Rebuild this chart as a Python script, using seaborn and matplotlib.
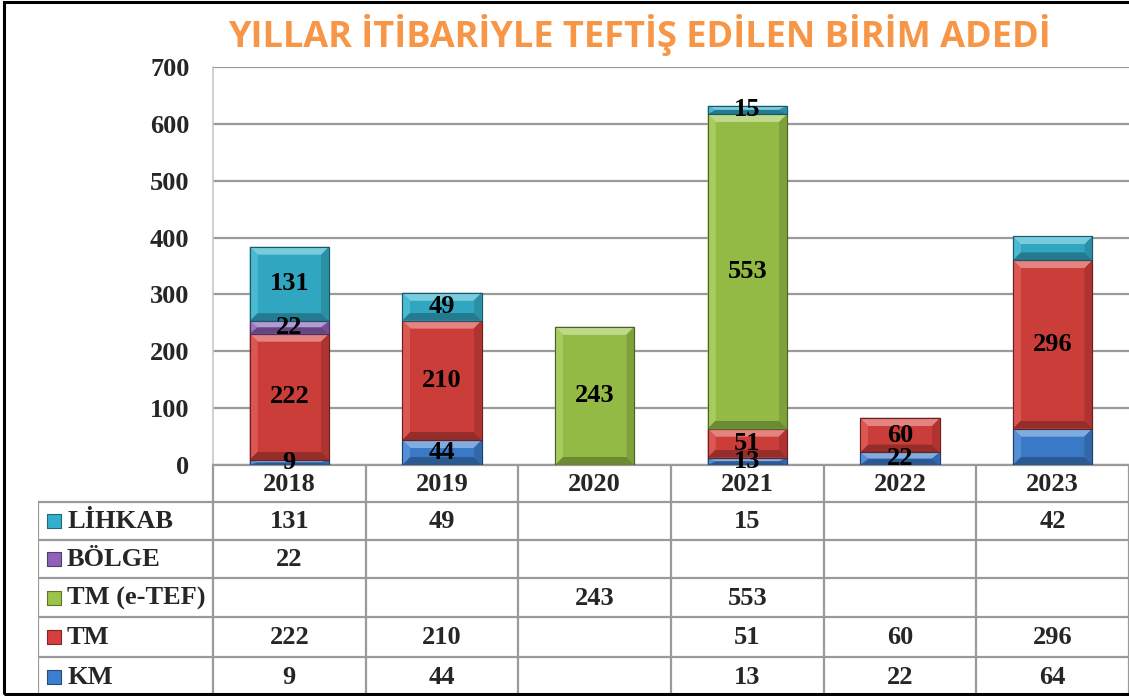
import numpy as np
import pandas as pd
import matplotlib
matplotlib.use("Agg")
import matplotlib.pyplot as plt
import seaborn as sns
from matplotlib.patches import Polygon, Rectangle
from matplotlib import colors as mcolors

# ---------------- data ----------------
years = ["2018", "2019", "2020", "2021", "2022", "2023"]
km = [9, 44, None, 13, 22, 64]
tm = [222, 210, None, 51, 60, 296]
tm_etef = [None, None, 243, 553, None, None]
bolge = [22, None, None, None, None, None]
lihkab = [131, 49, None, 15, None, 42]
series_names = ["KM", "TM", "TM (e-TEF)", "BÖLGE", "LİHKAB"]
title = "YILLAR İTİBARİYLE TEFTİŞ EDİLEN BİRİM ADEDİ"
yticks = [0, 100, 200, 300, 400, 500, 600, 700]
# labels not printed inside the bars (year, series)
hidden_labels = [("2023", "KM"), ("2023", "LİHKAB")]

series_values = [km, tm, tm_etef, bolge, lihkab]
series_colors = ["#3D7FCF", "#D5403C", "#9BC449", "#8D62B8", "#33AFCB"]

sns.set_theme(style="white")
plt.rcParams["font.family"] = ["Liberation Serif", "DejaVu Serif"]

W, H = 1129, 696
fig = plt.figure(figsize=(W / 100, H / 100), dpi=100)

ax_left, ax_right, ax_top, ax_bot = 213, 1129, 67, 465
ax = fig.add_axes([ax_left / W, 1 - ax_bot / H, (ax_right - ax_left) / W, (ax_bot - ax_top) / H])

def mix(c, other, t):
    c = np.array(mcolors.to_rgb(c)); o = np.array(mcolors.to_rgb(other))
    return tuple(c * (1 - t) + o * t)

bottoms = np.zeros(len(years))
for name, vals, col in zip(series_names, series_values, series_colors):
    v = np.array([0 if x is None else x for x in vals], dtype=float)
    df = pd.DataFrame({"year": years, "value": v})
    sns.barplot(data=df, x="year", y="value", bottom=bottoms, color=col,
                saturation=1, width=0.52, errorbar=None, ax=ax,
                edgecolor=mix(col, "black", 0.45), linewidth=0.8, zorder=3)
    cont = ax.containers[-1]
    labels = []
    for yr, x in zip(years, vals):
        if x is None or (yr, name) in hidden_labels:
            labels.append("")
        else:
            labels.append(str(x))
    ax.bar_label(cont, labels=labels, label_type="center", fontsize=19,
                 fontweight="bold", color="black", zorder=6)
    bottoms = bottoms + v

ax.set_xlim(-0.5, 5.5)
ax.set_ylim(0, 700)
ax.set_yticks(yticks)
ax.set_yticklabels([str(t) for t in yticks], fontsize=19, fontweight="bold")
ax.tick_params(axis="y", length=0, pad=17)
ax.set_xticks([])
ax.set_xlabel("")
ax.set_ylabel("")
ax.yaxis.grid(True, color="#9a9a9a", linewidth=1.6, zorder=0)
ax.set_axisbelow(True)
for s in ["top", "right"]:
    ax.spines[s].set_visible(False)
ax.spines["left"].set_color("#c8c8c8")
ax.spines["left"].set_linewidth(1.2)
ax.spines["bottom"].set_color("#9a9a9a")
ax.spines["bottom"].set_linewidth(1.6)

# bevel effect on bars
px_x = 8.0 * 6.0 / (ax_right - ax_left)
px_y = 8.0 * 700 / (ax_bot - ax_top)
for p in list(ax.patches):
    x0, y0 = p.get_x(), p.get_y()
    w, h = p.get_width(), p.get_height()
    if h <= 0:
        continue
    base = p.get_facecolor()
    dx = min(px_x, w / 2)
    dy = min(px_y, h / 2)
    x1, y1 = x0 + w, y0 + h
    faces = [
        ([(x0, y1), (x1, y1), (x1 - dx, y1 - dy), (x0 + dx, y1 - dy)], mix(base, "white", 0.35)),
        ([(x0, y0), (x0, y1), (x0 + dx, y1 - dy), (x0 + dx, y0 + dy)], mix(base, "white", 0.12)),
        ([(x1, y0), (x1, y1), (x1 - dx, y1 - dy), (x1 - dx, y0 + dy)], mix(base, "black", 0.18)),
        ([(x0, y0), (x1, y0), (x1 - dx, y0 + dy), (x0 + dx, y0 + dy)], mix(base, "black", 0.3)),
    ]
    for pts, c in faces:
        ax.add_patch(Polygon(pts, closed=True, facecolor=c, edgecolor="none", zorder=4))
    ax.add_patch(Rectangle((x0 + dx, y0 + dy), w - 2 * dx, max(h - 2 * dy, 0),
                           facecolor=mix(base, "black", 0.05), edgecolor="none", zorder=4))
    ax.add_patch(Rectangle((x0, y0), w, h, facecolor="none",
                           edgecolor=mix(base, "black", 0.5), linewidth=0.8, zorder=5))

# ---------------- data table ----------------
tab_left = 38
col_w = (ax_right - ax_left) / 6.0
x_min = -0.5 - (ax_left - tab_left) / col_w
tax = fig.add_axes([tab_left / W, 0, (W - tab_left) / W, (H - ax_bot) / H])
tax.set_xlim(x_min, 5.5)
row_edges = [0, 37, 75, 113, 152, 192, 231]
tax.set_ylim(231, 0)
tax.axis("off")

grid_c = "#9a9a9a"
for yb in row_edges[1:-1]:
    tax.plot([x_min, 5.5], [yb, yb], color=grid_c, lw=1.6, solid_capstyle="butt")
for k in range(7):
    tax.plot([-0.5 + k, -0.5 + k], [0, 231], color=grid_c, lw=1.6)
tax.plot([x_min, x_min], [row_edges[1], 231], color=grid_c, lw=1.6)

for i, yr in enumerate(years):
    tax.text(i, (row_edges[0] + row_edges[1]) / 2 + 1, yr, ha="center", va="center",
             fontsize=19, fontweight="bold")

table_rows = list(zip(series_names, series_values, series_colors))[::-1]
for r, (name, vals, col) in enumerate(table_rows):
    yc = (row_edges[r + 1] + row_edges[r + 2]) / 2
    tax.scatter([x_min + 15.5 / col_w], [yc], marker="s", s=95, color=col,
                edgecolors=mix(col, "black", 0.4), linewidths=0.8, zorder=3)
    tax.text(x_min + 29 / col_w, yc + 1, name, ha="left", va="center",
             fontsize=19, fontweight="bold")
    for i, v in enumerate(vals):
        if v is not None:
            tax.text(i, yc + 1, str(v), ha="center", va="center",
                     fontsize=19, fontweight="bold")

# title
fig.text(639 / W, 1 - 35 / H, title, ha="center", va="center", color="#F79646",
         fontsize=26, fontweight="bold", family=["Open Sans", "DejaVu Sans"])

# outer frame
fig.patches.append(Rectangle((4 / W, 2 / H), 1.2, 1 - 4 / H, transform=fig.transFigure,
                             fill=False, edgecolor="black", linewidth=2.2, zorder=10))

fig.savefig("out.png", dpi=100)
